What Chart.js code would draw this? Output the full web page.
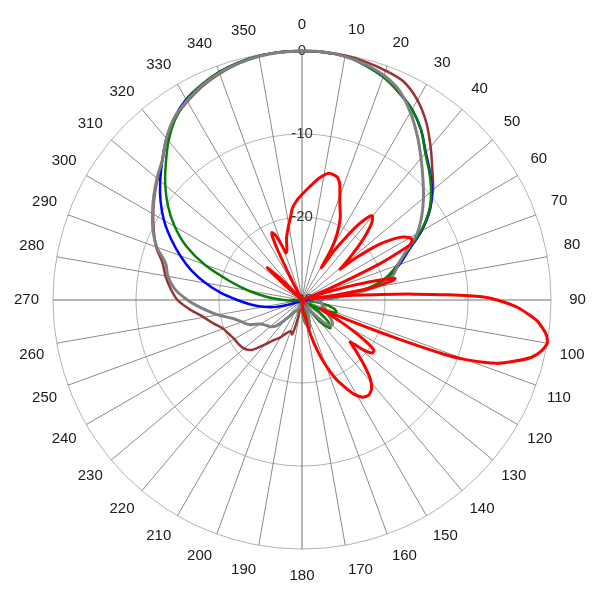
<!DOCTYPE html>
<html>
<head>
<meta charset="utf-8">
<script src="https://cdn.jsdelivr.net/npm/chart.js@4/dist/chart.umd.min.js"></script>
<style>
  html, body { margin: 0; padding: 0; background: #fff; }
  #wrap { width: 600px; height: 600px; }
</style>
</head>
<body>
<div id="wrap"><canvas id="patternChart" width="600" height="600"></canvas></div>
<script>
// one label per degree, only every 10th is shown
const angleLabels = Array.from({length: 360}, (_, i) => String(i));
const radialTicks = [-30, -20, -10, 0];

// [angle, dB]
const bluePattern = [
  [0,0],[5,-0.05],[10,-0.2],[15,-0.7],[20,-1.4],[25,-2.4],[30,-3.5],[35,-5.0],[40,-6.8],[45,-8.2],
  [50,-9.6],[55,-11.2],[60,-13.4],[65,-15.8],[70,-17.5],[75,-19.3],[80,-21.8],[85,-25.5],[90,-28.5],
  [95,-30],[120,-30],[150,-30],[180,-30],[210,-30],[240,-30],[245,-29.5],
  [250,-28.5],[255,-26.8],[260,-25.3],[265,-23.8],[270,-22.2],[275,-20.2],[280,-18.2],[285,-16.2],
  [290,-14.4],[295,-12.6],[300,-10.8],[305,-9.2],[310,-7.7],[315,-6.2],[320,-4.6],[325,-3.2],
  [330,-2.1],[335,-1.4],[340,-0.8],[345,-0.4],[350,-0.15],[355,-0.05]
];

const greenPattern = [
  [0,0],[5,-0.05],[10,-0.2],[15,-0.7],[20,-1.4],[25,-2.4],[30,-3.5],[35,-5.0],[40,-6.9],[45,-8.3],
  [50,-9.7],[55,-11.3],[60,-13.5],[65,-16],[70,-17.8],[75,-19.5],[80,-22],[85,-26],[90,-29],
  [95,-29],[100,-27.5],[105,-26],[110,-25.6],[115,-27],[120,-29],[125,-27.5],[130,-25.8],[135,-25.2],
  [140,-26.5],[145,-29],[150,-30],[155,-30],[160,-29],[165,-27.5],[170,-27],[175,-27.8],[180,-29.5],
  [190,-30],[220,-30],[250,-30],[260,-30],[265,-29],[270,-27.8],[275,-25.8],[280,-23.4],[285,-20.8],
  [290,-17.5],[295,-14.6],[300,-12.3],[305,-10.3],[310,-8.5],[315,-6.8],[320,-5.0],[325,-3.4],
  [330,-2.2],[335,-1.4],[340,-0.8],[345,-0.4],[350,-0.15],[355,-0.05]
];

const brownPattern = [
  [0,0],[5,0],[10,-0.1],[15,-0.3],[20,-0.6],[25,-1.0],[30,-2.2],[35,-3.9],[40,-5.9],[45,-7.8],
  [50,-9.4],[55,-11.3],[60,-13.4],[65,-16],[70,-17.8],[75,-19],[80,-21.5],[85,-25.5],[90,-29],
  [95,-30],[120,-30],[150,-30],[180,-30],[187,-30],[190,-29.5],[193,-27.5],[196,-25.7],[200,-26],
  [205,-25.6],[210,-24.8],[215,-24.1],[220,-23],[225,-21.5],[230,-20.9],[235,-20.7],[240,-20.6],
  [245,-20.3],[250,-19.9],[255,-19],[260,-18],[265,-16.5],[270,-15],[275,-14.1],[280,-13.3],
  [285,-12.6],[290,-11.3],[295,-10.3],[300,-9.3],[305,-8.3],[310,-7.3],[315,-6.2],[320,-4.7],
  [325,-3.3],[330,-2.4],[335,-1.6],[340,-1.0],[345,-0.5],[350,-0.2],[355,0]
];

const grayPattern = [
  [0,0],[5,0],[10,-0.2],[15,-0.6],[20,-1.2],[25,-2.2],[30,-3.9],[35,-5.8],[40,-7.7],[45,-9.4],
  [50,-10.9],[55,-12.4],[60,-14],[65,-16.2],[70,-17.7],[75,-18.7],[80,-21],[85,-25.5],[90,-28.5],
  [95,-28],[100,-27.5],[105,-27.5],[110,-27],[115,-26.8],[120,-26.3],[125,-25.6],[130,-25.3],
  [135,-26],[140,-28],[145,-29.5],[150,-29.5],[155,-28.5],[160,-27.5],[165,-26.5],[170,-27],
  [175,-28.5],[180,-29],[185,-29.5],[190,-29.5],[195,-29.5],[200,-29],[205,-28.5],[210,-28.5],
  [215,-28],[220,-27],[225,-25.6],[230,-25],[235,-24.7],[240,-24.2],[245,-23],[250,-22.3],
  [255,-21.4],[260,-19.7],[265,-18],[270,-16.2],[275,-14.6],[280,-13.6],[285,-13],[290,-11.4],
  [295,-10.2],[300,-9.2],[305,-8.2],[310,-7.2],[315,-6.2],[320,-4.6],[325,-3.2],[330,-2.3],
  [335,-1.5],[340,-0.9],[345,-0.5],[350,-0.2],[355,-0.05]
];

const redPattern = [
  [0,-17.3],[4,-16.3],[8,-15.2],[12,-14.4],[16,-14.6],[18,-15.3],[21,-17.3],[25,-19.1],[28,-21],
  [30,-23],[31,-25.5],[33,-23],[35,-20.8],[37,-18.5],[39,-17],[40,-16.8],[42,-17.4],[44,-18.7],
  [46,-20.3],[48,-22],[50,-23.4],[51,-24.1],[52,-21.8],[54,-18.8],[56,-17],[58,-15.7],[60,-15],
  [61,-14.9],[62,-15],[63,-15.5],[64,-17.5],[65,-19.5],[66,-23],[67,-26],[68,-28.5],[70,-30],
  [72,-28],[74,-23.5],[76,-19.5],[77,-18.5],[78,-18.8],[80,-21.5],[82,-26],[83,-29],[84,-25],
  [86,-20.4],[87,-16.5],[88,-12.3],[89,-8.3],[90,-6.5],[92,-4],[95,-1.6],[98,-0.3],[100,0],
  [102,-0.5],[104,-1.5],[106,-3.3],[108,-5.3],[110,-9],[111,-12],[112,-17.5],[113,-22],
  [114,-25.5],[115,-27.5],[117,-27],[119,-25],[121,-23],[123,-20.8],[125,-19.4],[127,-19.4],
  [129,-20.4],[131,-22.3],[133,-21.3],[136,-19.4],[139,-17.5],[142,-16.4],[145,-16],[148,-16.2],
  [151,-17],[154,-18.4],[157,-19.8],[160,-21.6],[163,-23.6],[166,-25.6],[170,-28],[175,-28.5],
  [180,-30],[210,-30],[240,-30],[270,-30],[300,-30],[308,-30],[311,-27],[313,-24.3],[315,-26.5],
  [317,-30],[325,-30],[332,-30],[333,-27],[334,-23.5],[335,-21.5],[336,-21.1],[338,-21.7],
  [340,-23.2],[341,-24],[343,-23.8],[346,-22.3],[350,-20.8],[352,-20],[354,-18.9],[357,-18]
];

function toSeries(points) {
  const out = new Array(angleLabels.length).fill(null);
  points.forEach(([deg, db]) => { out[deg] = db; });
  return out;
}

const fontFamily = "'Liberation Sans', Arial, sans-serif";

const ctx = document.getElementById('patternChart').getContext('2d');
new Chart(ctx, {
  type: 'radar',
  data: {
    labels: angleLabels,
    datasets: [
      { data: toSeries(redPattern), borderColor: '#ff0000', borderWidth: 3, tension: 0.2 },
      { data: toSeries(grayPattern), borderColor: '#808080', borderWidth: 3, tension: 0.3 },
      { data: toSeries(greenPattern), borderColor: '#0a7d0a', borderWidth: 2.5, tension: 0.3 },
      { data: toSeries(bluePattern), borderColor: '#0000ff', borderWidth: 2.5, tension: 0.3 },
      { data: toSeries(brownPattern), borderColor: '#993333', borderWidth: 2.5, tension: 0.3 }
    ].map(ds => Object.assign(ds, { fill: false, pointRadius: 0, spanGaps: true }))
  },
  options: {
    responsive: false,
    animation: false,
    devicePixelRatio: 1,
    layout: { padding: 12 },
    plugins: {
      legend: { display: false },
      tooltip: { enabled: false }
    },
    scales: {
      r: {
        min: radialTicks[0],
        max: radialTicks[radialTicks.length - 1],
        startAngle: 0,
        grid: { circular: true, color: '#b3b3b3', lineWidth: 1 },
        angleLines: {
          color: (c) => (c.index % 90 === 0 ? '#6e6e6e' : '#8a8a8a'),
          lineWidth: (c) => (c.index % 10 === 0 ? 1 : 0)
        },
        ticks: {
          stepSize: 10,
          showLabelBackdrop: false,
          color: '#333',
          font: { family: fontFamily, size: 15 }
        },
        pointLabels: {
          callback: (label, i) => (i % 10 === 0 ? label : ''),
          color: '#1a1a1a',
          font: { family: fontFamily, size: 15 },
          padding: (c) => {
            if (c.index % 10 !== 0) return 0;
            const a = c.index * Math.PI / 180;
            const w = String(c.label).length * 8.4;
            return Math.max(1, 17 - Math.abs(Math.sin(a)) * w / 2 - Math.abs(Math.cos(a)) * 9);
          }
        }
      }
    }
  }
});
</script>
</body>
</html>
